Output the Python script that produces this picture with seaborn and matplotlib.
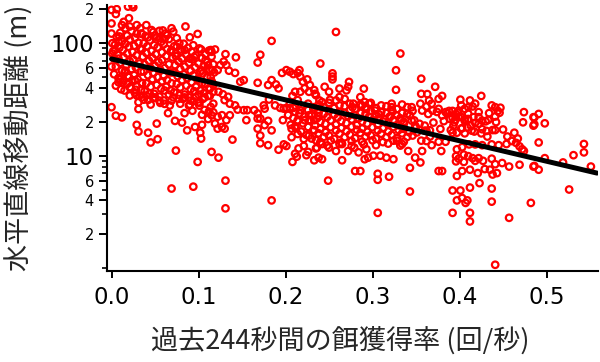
import matplotlib
matplotlib.use("Agg")
import matplotlib.pyplot as plt
from matplotlib.ticker import FixedLocator, FixedFormatter, NullFormatter
import numpy as np
import seaborn as sns

# values: (feeding rate per s, horizontal distance in m)
early_edge = [
    (0.000, 198), (0.005, 182), (0.006, 201), (0.019, 212), (0.024, 218), (0.025, 209),
    (0.020, 167), (0.014, 155), (0.012, 145), (0.016, 136), (0.021, 141), (0.000, 150),
    (0.000, 122), (0.009, 115), (0.029, 145), (0.033, 136), (0.040, 145), (0.046, 131),
    (0.055, 129), (0.062, 122), (0.069, 136), (0.071, 127), (0.085, 141), (0.090, 113),
    (0.099, 121), (0.061, 109), (0.055, 111), (0.050, 117), (0.042, 113), (0.035, 121),
    (0.029, 122), (0.001, 100), (0.008, 104), (0.004, 87), (0.001, 81), (0.008, 73),
    (0.000, 62), (0.016, 57), (0.010, 47.6), (0.008, 45), (0.014, 46.7), (0.020, 50),
    (0.021, 40.7), (0.027, 46.7), (0.035, 44), (0.028, 38.5), (0.015, 38), (0.021, 34.3),
    (0.029, 34.3), (0.035, 33), (0.040, 34.3), (0.031, 29.9), (0.031, 26), (0.042, 31.3),
    (0.050, 33), (0.061, 28.9), (0.055, 30.9), (0.069, 30.9), (0.077, 32), (0.084, 33),
    (0.091, 30.9), (0.097, 33), (0.100, 29.9), (0.107, 33), (0.113, 39.3), (0.116, 44.2),
    (0.107, 43.6), (0.114, 50), (0.104, 57.4), (0.111, 63.7), (0.114, 87), (0.108, 70.6),
    (0.095, 75.7), (0.090, 73), (0.084, 87), (0.079, 88), (0.074, 76.8), (0.068, 84),
    (0.000, 27), (0.005, 22.7), (0.012, 21.9), (0.029, 18.8), (0.031, 16.4), (0.042, 16),
    (0.052, 19.3), (0.065, 23.9), (0.073, 20.4), (0.081, 19.7), (0.084, 23.9), (0.089, 27.9),
    (0.093, 25.1), (0.101, 27.9), (0.107, 25.5), (0.104, 23.1), (0.111, 21.2), (0.104, 18.8),
    (0.102, 16), (0.096, 18), (0.087, 16.8), (0.114, 27.1), (0.112, 24.7), (0.117, 24.3),
    (0.045, 13.1), (0.053, 14), (0.074, 11.1), (0.099, 8.8), (0.069, 5.1), (0.094, 5.3),
    (0.103, 14.2),
]

early_fill = [
    (0.010, 124), (0.023, 128), (0.034, 122), (0.048, 126), (0.059, 130),
    (0.006, 114), (0.018, 117), (0.027, 112), (0.039, 116), (0.052, 113), (0.064, 118), (0.075, 111),
    (0.012, 104), (0.021, 108), (0.031, 101), (0.044, 106), (0.057, 103), (0.066, 109), (0.078, 100),
    (0.004, 97), (0.016, 99), (0.026, 95), (0.037, 100), (0.049, 96), (0.060, 98), (0.072, 94),
    (0.083, 99), (0.094, 96),
    (0.009, 91), (0.020, 93), (0.033, 90), (0.041, 94), (0.053, 92), (0.064, 89), (0.075, 93),
    (0.088, 91), (0.101, 90),
    (0.002, 85), (0.013, 87), (0.024, 84), (0.035, 88), (0.046, 86), (0.058, 83), (0.069, 87),
    (0.080, 85), (0.092, 84), (0.103, 88), (0.112, 86),
    (0.007, 79), (0.018, 81), (0.029, 78), (0.040, 82), (0.051, 80), (0.063, 77), (0.074, 81),
    (0.086, 79), (0.097, 78), (0.108, 80),
    (0.003, 73), (0.014, 75), (0.025, 72), (0.036, 76), (0.047, 74), (0.058, 71), (0.070, 75),
    (0.081, 73), (0.093, 72), (0.104, 74), (0.115, 76),
    (0.010, 67), (0.021, 69), (0.032, 66), (0.043, 70), (0.054, 68), (0.066, 65), (0.077, 69),
    (0.089, 67), (0.100, 66), (0.110, 68),
    (0.005, 62), (0.017, 64), (0.028, 61), (0.038, 65), (0.050, 63), (0.061, 60), (0.073, 64),
    (0.084, 62), (0.096, 61), (0.106, 63), (0.117, 65),
    (0.012, 57), (0.023, 59), (0.034, 56), (0.045, 60), (0.056, 58), (0.068, 55), (0.079, 59),
    (0.091, 57), (0.102, 56), (0.113, 58),
    (0.003, 53), (0.015, 55), (0.026, 52), (0.037, 56), (0.048, 54), (0.060, 51), (0.071, 55),
    (0.083, 53), (0.094, 52), (0.105, 54), (0.118, 55),
    (0.008, 49), (0.019, 51), (0.030, 48), (0.042, 52), (0.053, 50), (0.064, 47), (0.076, 51),
    (0.087, 49), (0.099, 48), (0.110, 50),
    (0.013, 45), (0.024, 47), (0.035, 44.5), (0.047, 48), (0.058, 46), (0.069, 44), (0.081, 47),
    (0.092, 45), (0.104, 44), (0.115, 46),
    (0.005, 42), (0.018, 43.5), (0.029, 41.5), (0.040, 44), (0.052, 42.5), (0.063, 41), (0.075, 43.5),
    (0.086, 42), (0.097, 41), (0.108, 43),
    (0.011, 39), (0.022, 40.5), (0.034, 38.5), (0.045, 41), (0.057, 39.5), (0.068, 38), (0.079, 40.5),
    (0.091, 39), (0.102, 38), (0.113, 40),
    (0.027, 36), (0.038, 37.5), (0.049, 35.5), (0.061, 38), (0.072, 36.5), (0.084, 35), (0.095, 37.5),
    (0.106, 36), (0.117, 37),
    (0.032, 34), (0.044, 35.5), (0.055, 33.5), (0.066, 35), (0.078, 34.5), (0.089, 33), (0.100, 35),
    (0.111, 34),
    (0.037, 31.5), (0.048, 32.5), (0.060, 31), (0.071, 33), (0.082, 32), (0.094, 30.5), (0.105, 32),
    (0.045, 28.5), (0.056, 29.5), (0.067, 28), (0.079, 29), (0.090, 28.5), (0.101, 29.5),
]

mid_points = [
    (0.184, 105), (0.171, 79), (0.168, 67.4), (0.143, 75), (0.131, 80), (0.119, 88), (0.115, 84),
    (0.129, 68.7), (0.132, 64), (0.125, 64), (0.122, 57.7), (0.116, 57.7), (0.135, 57), (0.142, 54.5),
    (0.148, 45.5), (0.152, 47), (0.168, 44.5), (0.180, 42.5), (0.184, 47), (0.189, 43), (0.192, 39.7),
    (0.196, 54.5), (0.201, 57.7), (0.205, 55.8), (0.209, 53.2), (0.214, 54.5), (0.216, 57.7),
    (0.217, 50.5), (0.220, 45.5), (0.225, 47.7), (0.228, 42.5), (0.222, 39.7), (0.217, 37),
    (0.211, 37), (0.208, 34), (0.214, 31.2), (0.227, 37), (0.233, 38.3), (0.235, 34.5), (0.240, 66),
    (0.117, 42.5), (0.123, 37), (0.128, 35.2), (0.134, 33.4), (0.130, 31.2), (0.136, 29), (0.142, 28),
    (0.145, 25.7), (0.152, 25.4), (0.156, 25.4), (0.164, 25.4), (0.168, 23.7), (0.171, 21.4),
    (0.175, 28), (0.176, 26.2), (0.181, 31.6), (0.188, 28), (0.194, 26.6), (0.198, 26.2),
    (0.201, 26.6), (0.205, 29), (0.209, 26.6), (0.217, 25.4), (0.226, 29), (0.233, 27), (0.238, 25.7),
    (0.117, 29), (0.113, 34), (0.115, 22.9), (0.122, 22.2), (0.127, 22.9), (0.132, 20.7), (0.136, 22.9),
    (0.119, 19.3), (0.127, 18), (0.130, 17.4), (0.122, 17.4), (0.155, 20.7), (0.168, 21.4),
    (0.180, 20.4), (0.184, 16.8), (0.168, 17.4), (0.171, 15.1), (0.176, 18.7), (0.197, 20.7),
    (0.207, 17.4), (0.211, 18.2), (0.214, 20.7), (0.222, 20.7), (0.227, 22.9), (0.233, 20.7),
    (0.238, 22.2), (0.207, 14.6), (0.214, 15.6), (0.221, 14.1), (0.227, 15.1), (0.233, 16.8),
    (0.235, 13.7), (0.215, 11.6), (0.221, 12.2), (0.226, 10.8), (0.235, 11.6), (0.139, 13.9),
    (0.171, 12.9), (0.180, 12.4), (0.192, 11.3), (0.198, 12.6), (0.201, 12.2), (0.211, 10.4),
    (0.208, 8.8), (0.224, 10.1), (0.233, 9.1), (0.115, 10.8), (0.123, 9.6),
    (0.131, 6.0), (0.131, 3.4), (0.184, 4.0), (0.213, 9.8),
]

core_points = [
    (0.254, 54), (0.254, 50.5), (0.254, 47.7), (0.332, 81), (0.327, 57.5), (0.327, 38.5),
    (0.273, 45.3), (0.272, 41), (0.245, 41), (0.250, 37), (0.262, 39.5), (0.270, 38.1), (0.290, 39.5),
    (0.286, 33.2), (0.291, 30), (0.296, 29), (0.303, 25.2), (0.322, 27), (0.323, 24.7), (0.345, 27),
    (0.355, 29), (0.357, 25.2), (0.356, 48.4), (0.356, 35.5), (0.343, 22.8), (0.349, 18.5),
    (0.354, 19.2), (0.360, 16.7), (0.234, 35.5), (0.239, 31), (0.242, 30), (0.251, 31.4), (0.258, 31),
    (0.262, 33.2), (0.268, 32), (0.278, 29), (0.277, 27), (0.281, 26), (0.288, 28), (0.293, 26),
    (0.307, 23.5), (0.314, 21.2), (0.320, 22), (0.333, 20.5), (0.336, 19.2), (0.345, 20.5),
    (0.351, 16.1), (0.356, 13.6), (0.357, 11), (0.349, 9.6), (0.341, 11), (0.334, 12.7), (0.328, 13.6),
    (0.324, 9.3), (0.316, 9.6), (0.309, 10), (0.301, 10), (0.295, 9.6), (0.291, 9.3), (0.293, 11.4),
    (0.284, 10.7), (0.279, 11.8), (0.272, 11), (0.265, 12.7), (0.258, 11), (0.250, 11.8), (0.242, 12.7),
    (0.236, 11.8), (0.238, 9.6), (0.242, 9.3), (0.265, 9.1), (0.280, 7.3), (0.286, 7.3), (0.306, 6.9),
    (0.306, 6.1), (0.319, 6.5), (0.343, 7.8), (0.355, 8.7), (0.249, 6.0), (0.343, 4.8), (0.258, 126),
    (0.306, 3.1),
]

core_fill = [
    (0.238, 28.5), (0.250, 29.5), (0.262, 28), (0.274, 29), (0.286, 28.5), (0.298, 29.5), (0.310, 28),
    (0.322, 29), (0.334, 28.5),
    (0.205, 26.5), (0.218, 27.5), (0.232, 26), (0.244, 27), (0.256, 26.5), (0.268, 27.5), (0.280, 26),
    (0.292, 27), (0.304, 26.5), (0.316, 27.5), (0.328, 26), (0.340, 27),
    (0.211, 24.5), (0.226, 25.5), (0.238, 24), (0.250, 25), (0.262, 24.5), (0.274, 25.5), (0.286, 24),
    (0.298, 25), (0.310, 24.5), (0.322, 25.5), (0.334, 24), (0.346, 25),
    (0.203, 23), (0.216, 23.8), (0.230, 22.8), (0.244, 23.5), (0.256, 23.2), (0.268, 24), (0.280, 22.9),
    (0.292, 23.6), (0.304, 23.1), (0.316, 23.9), (0.328, 22.8), (0.340, 23.5),
    (0.209, 21.6), (0.222, 22.3), (0.236, 21.4), (0.248, 22.1), (0.260, 21.8), (0.272, 22.5),
    (0.284, 21.5), (0.296, 22.2), (0.308, 21.7), (0.320, 22.4), (0.332, 21.5),
    (0.214, 20.2), (0.228, 20.8), (0.240, 20), (0.252, 20.6), (0.264, 20.3), (0.276, 21), (0.288, 20.1),
    (0.300, 20.7), (0.312, 20.2), (0.324, 20.9), (0.336, 20), (0.348, 20.6),
    (0.206, 18.8), (0.220, 19.4), (0.234, 18.6), (0.246, 19.2), (0.258, 18.9), (0.270, 19.5),
    (0.282, 18.7), (0.294, 19.3), (0.306, 18.8), (0.318, 19.4), (0.330, 18.6),
    (0.212, 17.5), (0.226, 18), (0.240, 17.3), (0.252, 17.9), (0.264, 17.6), (0.276, 18.1),
    (0.288, 17.4), (0.300, 17.9), (0.312, 17.5), (0.324, 18), (0.336, 17.3), (0.350, 17.8),
    (0.218, 16.4), (0.232, 16.9), (0.246, 16.2), (0.258, 16.8), (0.270, 16.5), (0.282, 17),
    (0.294, 16.3), (0.306, 16.8), (0.318, 16.4), (0.330, 16.9), (0.342, 16.2),
    (0.224, 15.3), (0.238, 15.8), (0.250, 15.1), (0.262, 15.7), (0.274, 15.4), (0.286, 15.9),
    (0.298, 15.2), (0.310, 15.7), (0.322, 15.3), (0.334, 15.8), (0.346, 15.1),
    (0.230, 14.2), (0.244, 14.7), (0.256, 14.1), (0.268, 14.6), (0.280, 14.3), (0.292, 14.8),
    (0.304, 14.2), (0.316, 14.6), (0.328, 14.3), (0.340, 14.7),
    (0.240, 13.2), (0.252, 13.6), (0.264, 13.1), (0.276, 13.5), (0.288, 13.3), (0.300, 13.7),
    (0.312, 13.2), (0.324, 13.6), (0.336, 13.3),
    (0.248, 12.3), (0.262, 12.7), (0.276, 12.2), (0.290, 12.6), (0.304, 12.4), (0.318, 12.8),
    (0.332, 12.3),
]

late_points = [
    (0.372, 41), (0.363, 35.3), (0.365, 31), (0.368, 29), (0.376, 32), (0.380, 34), (0.362, 27.4),
    (0.369, 25.2), (0.376, 26.1), (0.380, 22.8), (0.384, 24.4), (0.388, 25), (0.392, 25), (0.396, 23.5),
    (0.399, 25.2), (0.401, 31.5), (0.402, 28), (0.406, 26.1), (0.410, 27), (0.412, 31), (0.415, 27.4),
    (0.418, 29), (0.425, 34), (0.437, 28), (0.441, 27), (0.444, 25), (0.447, 26.7), (0.441, 22.3),
    (0.433, 20.8), (0.426, 20.5), (0.422, 22), (0.416, 22), (0.410, 21.2), (0.406, 21.2), (0.403, 22),
    (0.399, 22), (0.395, 20.8), (0.392, 21.7), (0.389, 21.2), (0.393, 18.5), (0.392, 16), (0.397, 16),
    (0.403, 17.6), (0.406, 15.8), (0.409, 17.8), (0.413, 18.5), (0.417, 16.4), (0.425, 15.8),
    (0.422, 19.2), (0.431, 16.6), (0.432, 14.8), (0.441, 16.9), (0.455, 14.8), (0.463, 16),
    (0.467, 14.2), (0.460, 13.5), (0.454, 12.7), (0.465, 13.0), (0.469, 12.1), (0.472, 11.4),
    (0.474, 11), (0.474, 24.4), (0.473, 19.8), (0.485, 22), (0.485, 18.5), (0.360, 18.5), (0.362, 16.6),
    (0.366, 14.8), (0.362, 13.5), (0.368, 12.4), (0.376, 13.3), (0.384, 13.3), (0.379, 11),
    (0.397, 11.4), (0.403, 11.9), (0.411, 12.6), (0.418, 12.6), (0.426, 12.4), (0.437, 12.6),
    (0.445, 12.4), (0.396, 9.9), (0.399, 9.4), (0.405, 10.2), (0.410, 9.9), (0.415, 9.5), (0.422, 9.5),
    (0.396, 8.9), (0.405, 8.8), (0.418, 9.0), (0.427, 9.0), (0.437, 9.4), (0.441, 8.4), (0.449, 8.6),
    (0.457, 8.0), (0.469, 8.3), (0.485, 8.0), (0.376, 7.3), (0.380, 7.3), (0.397, 6.6), (0.403, 7.3),
    (0.412, 7.5), (0.421, 7.0), (0.429, 7.6), (0.435, 7.5), (0.438, 6.8), (0.443, 7.0), (0.423, 5.7),
    (0.412, 5.2), (0.437, 5.1), (0.392, 4.9), (0.401, 4.9), (0.397, 4.0), (0.403, 4.2), (0.407, 3.8),
    (0.409, 4.0), (0.437, 3.9), (0.482, 3.8),
    (0.392, 3.1), (0.412, 3.1), (0.412, 2.6), (0.457, 2.8), (0.441, 1.07),
    (0.486, 21.9), (0.491, 23.5), (0.486, 19.0), (0.498, 19.4), (0.491, 13.1), (0.543, 12.7),
    (0.543, 10.7), (0.531, 10.1), (0.498, 9.5), (0.519, 8.7), (0.486, 8.1), (0.491, 7.5),
    (0.551, 8.0), (0.526, 5.0),
]

late_fill = [
    (0.364, 23.5), (0.374, 24.5), (0.386, 23.8), (0.398, 24.2), (0.410, 23.6), (0.422, 24.4),
    (0.434, 23.9), (0.446, 24.1),
    (0.370, 19.7), (0.382, 20.3), (0.394, 19.8), (0.406, 20.4), (0.418, 19.6), (0.430, 20.2),
    (0.442, 19.9),
    (0.366, 16.8), (0.378, 17.3), (0.390, 16.9), (0.402, 17.4), (0.414, 16.7), (0.426, 17.2),
    (0.438, 16.9), (0.450, 17.1),
]

# fitted line (log scale), read at both ends
line_x = [0.0, 0.558]
line_y = [72.5, 7.0]

x_ticks = [0.0, 0.1, 0.2, 0.3, 0.4, 0.5]
x_labels = ["0.0", "0.1", "0.2", "0.3", "0.4", "0.5"]
y_ticks = [2, 4, 6, 10, 20, 40, 60, 100, 200]
y_labels = ["2", "4", "6", "10", "2", "4", "6", "100", "2"]
y_minor = [1, 3, 5, 7, 8, 9, 30, 50, 70, 80, 90]

xlabel = "過去244秒間の餌獲得率 (回/秒)"
ylabel = "水平直線移動距離 (m)"

pts = early_edge + early_fill + mid_points + core_points + core_fill + late_points + late_fill
xs = np.array([p[0] for p in pts])
ys = np.array([p[1] for p in pts])

sns.set_style("ticks")
plt.rcParams["font.family"] = ["DejaVu Sans"]
plt.rcParams["text.color"] = "black"
plt.rcParams["xtick.color"] = "black"
plt.rcParams["ytick.color"] = "black"
plt.rcParams["axes.edgecolor"] = "black"
jp = ["Noto Sans CJK JP", "DejaVu Sans"]

fig = plt.figure(figsize=(6, 3.62), dpi=100)
ax = fig.add_axes([0.1783, 0.2514, 0.8184, 0.7348])
ax.set_yscale("log")

sns.scatterplot(x=xs, y=ys, ax=ax, marker="o", s=22, facecolor="none",
                edgecolor="#ff0000", linewidth=1.6, zorder=2)
sns.lineplot(x=line_x, y=line_y, ax=ax, color="black", linewidth=3.6, zorder=3)

ax.set_xlim(-0.0052, 0.5592)
ax.set_ylim(0.942, 219)

ax.xaxis.set_major_locator(FixedLocator(x_ticks))
ax.xaxis.set_major_formatter(FixedFormatter(x_labels))
ax.yaxis.set_major_locator(FixedLocator(y_ticks))
ax.yaxis.set_major_formatter(FixedFormatter(y_labels))
ax.yaxis.set_minor_locator(FixedLocator(y_minor))
ax.yaxis.set_minor_formatter(NullFormatter())

ax.tick_params(axis="x", which="major", length=5, width=1.4, pad=6, labelsize=16.5)
ax.tick_params(axis="y", which="major", length=6, width=1.4, pad=3.5, labelsize=10.5)
ax.tick_params(axis="y", which="minor", length=3.5, width=1.2)
for lab, val in zip(ax.get_yticklabels(), y_ticks):
    if val in (10, 100):
        lab.set_fontsize(16.5)

sns.despine(ax=ax)
for side in ["left", "bottom"]:
    ax.spines[side].set_linewidth(1.5)

ax.set_xlabel(xlabel, fontsize=19.5, family=jp)
ax.set_ylabel(ylabel, fontsize=19.5, family=jp)
ax.xaxis.set_label_coords(0.475, -0.21)
ax.yaxis.set_label_coords(-0.152, 0.5)
ax.xaxis.label.set_va("top")

fig.savefig("out.png", dpi=100)
